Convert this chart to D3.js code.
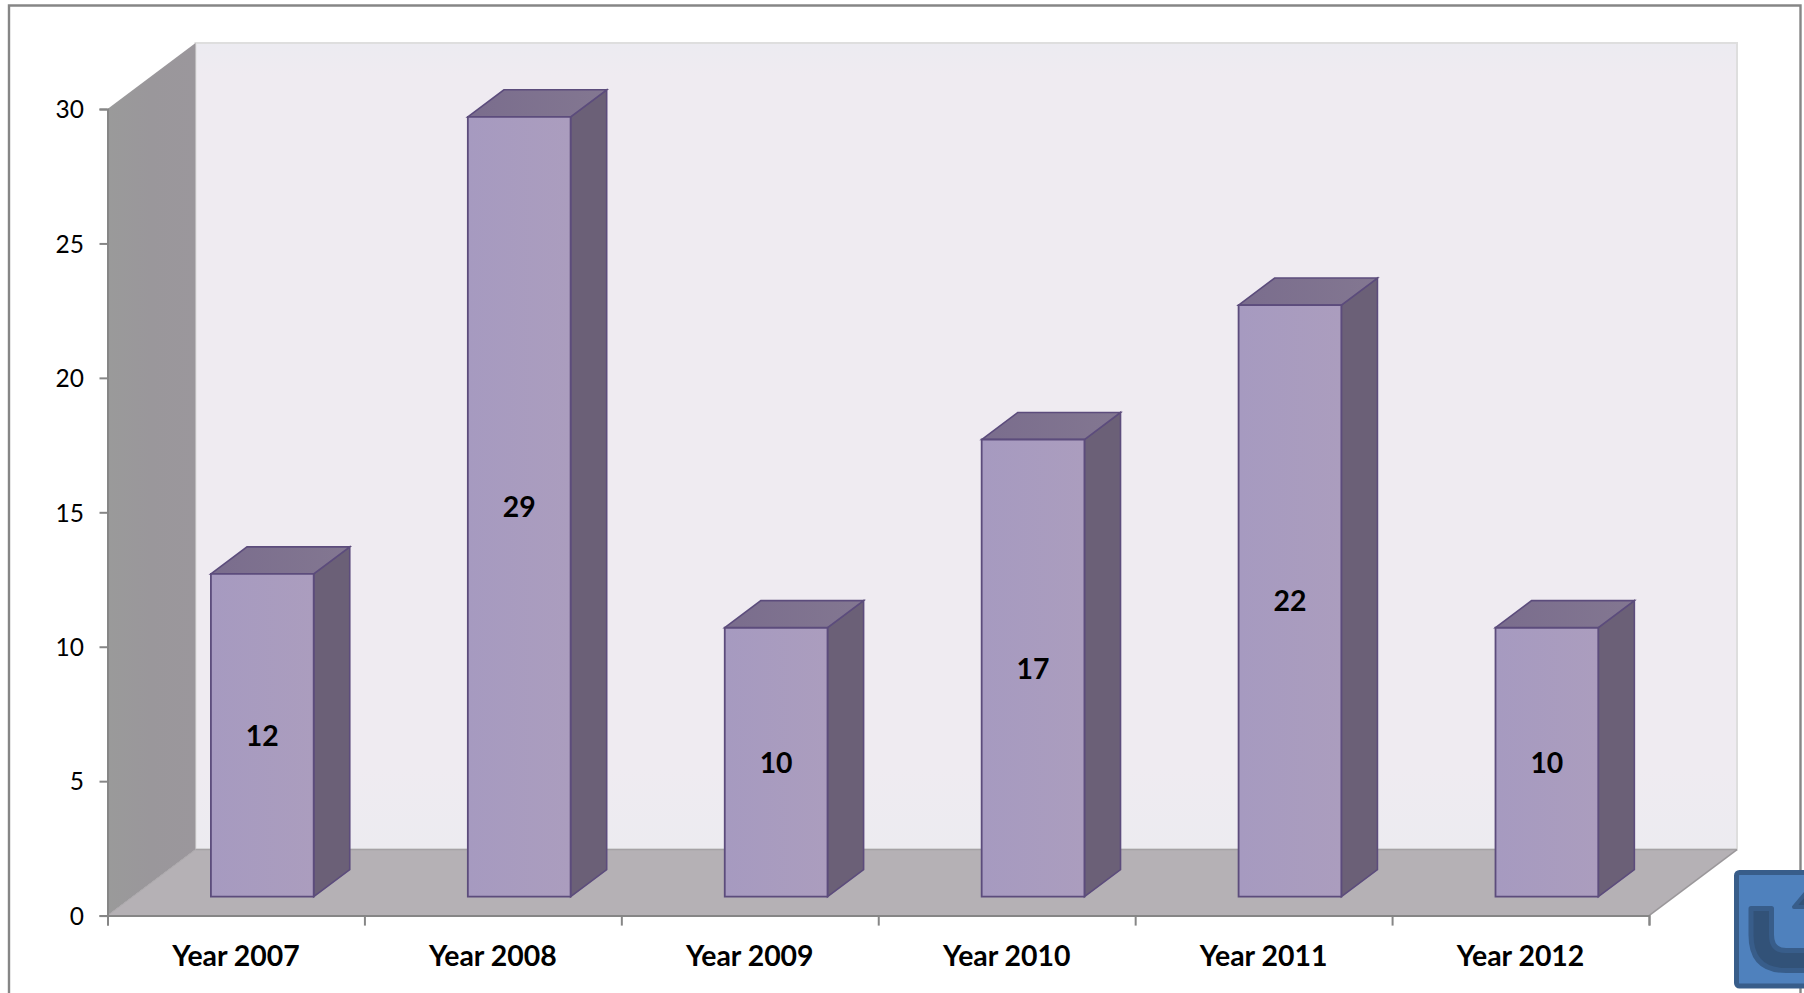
<!DOCTYPE html>
<html><head><meta charset="utf-8">
<script src="https://cdn.jsdelivr.net/npm/d3@7/dist/d3.min.js"></script>
<style>html,body{margin:0;padding:0;background:#fff;overflow:hidden}svg{display:block}</style>
</head><body><svg id="c" width="1804" height="993"></svg>
<script>
const categories = ["Year 2007","Year 2008","Year 2009","Year 2010","Year 2011","Year 2012"];
const values = [12,29,10,17,22,10];
const yTicks = [0,5,10,15,20,25,30];

const svg = d3.select("#c");
const FONT = "Lato, Carlito, sans-serif";
const x = d3.scaleBand().domain(categories).range([107.5,1649]);
const y = d3.scaleLinear().domain([0,30]).range([915.6,109]);
// depth scale: 0 = front of the floor, 1 = back wall
const dx = d3.scaleLinear().domain([0,1]).range([0,88]);
const dy = d3.scaleLinear().domain([0,1]).range([0,-66]);
const barFront = 0.288, barBack = 0.698, barBandShare = 0.4, barNudge = 1;
const P = (px,v,d) => [px+dx(d), y(v)+dy(d)];
const poly = pts => "M"+pts.map(p=>p.join(",")).join("L")+"Z";

const defs = svg.append("defs");
function grad(id,stops,h){
  const g = defs.append("linearGradient").attr("id",id).attr("x1",0).attr("y1",0).attr("x2",h?1:0).attr("y2",h?0:1);
  stops.forEach(([o,c])=>g.append("stop").attr("offset",o).attr("stop-color",c));
}
grad("back",[[0,"#ecebf1"],[0.04,"#efebf1"],[0.9,"#efebf1"],[1,"#ecebf0"]]);
grad("wall",[[0,"#9a9a9a"],[0.5,"#9a979b"],[1,"#9b979c"]],true);
grad("front",[[0,"#a69ac0"],[1,"#ab9dbe"]],true);
grad("lid",[[0,"#7a6d8d"],[1,"#837791"]],true);

// outer frame (runs off the bottom of the page)
svg.append("path").attr("d","M9,993V5.5H1800.5V993").attr("fill","none").attr("stroke","#868686").attr("stroke-width",2.4);

// walls and floor
const [x0,x1] = x.range();
svg.append("path").attr("d",poly([P(x0,30,1),P(x1,30,1),P(x1,0,1),P(x0,0,1)]))
  .attr("fill","url(#back)").attr("stroke","#dedede").attr("stroke-width",2);
svg.append("path").attr("d",poly([P(x0,0,0),P(x0,30,0),P(x0,30,1),P(x0,0,1)])).attr("fill","url(#wall)");
svg.append("path").attr("d",poly([P(x0,0,0),P(x0,0,1),P(x1,0,1),P(x1,0,0)])).attr("fill","#b5b1b5");
svg.append("path").attr("d",`M${P(x0,0,1)}L${P(x1,0,1)}`).attr("stroke","#a5a2a5").attr("stroke-width",1.5).attr("fill","none");
svg.append("path").attr("d",`M${P(x0,0,0)}L${P(x0,0,1)}`).attr("stroke","#aaa7aa").attr("stroke-width",1).attr("fill","none");
svg.append("path").attr("d",`M${P(x1,0,0)}L${P(x1,0,1)}`).attr("stroke","#9a979a").attr("stroke-width",1.5).attr("fill","none");

// axes
const yAxis = svg.append("g").attr("transform",`translate(${x0},0)`)
  .call(d3.axisLeft(y).tickValues(yTicks).tickSize(8).tickPadding(15.5));
const edges = d3.scaleLinear().domain([0,categories.length]).range([x0,x1]);
const xAxis = svg.append("g").attr("transform",`translate(0,${y(0)})`)
  .call(d3.axisBottom(edges).tickValues(d3.range(categories.length+1)).tickSize(10).tickFormat(""));
[yAxis,xAxis].forEach(g=>{
  g.selectAll(".domain").attr("stroke","#868686").attr("stroke-width",2);
  g.selectAll("line").attr("stroke","#868686").attr("stroke-width",2);
});
yAxis.selectAll("text").attr("font-family",FONT).attr("font-size",24.5).attr("fill","#000").attr("dy","0.36em");
svg.append("g").selectAll("text").data(categories).join("text")
  .attr("x",d=>x(d)+x.bandwidth()/2).attr("y",965.5).attr("text-anchor","middle")
  .attr("font-family",FONT).attr("font-weight",700).attr("font-size",28.4).attr("fill","#000").text(d=>d);

// 3-D bars
const bars = svg.append("g").selectAll("g").data(categories.map((c,i)=>({c,v:values[i]}))).join("g");
const bw = x.bandwidth()*barBandShare;
const L = d => x(d.c)+(x.bandwidth()-bw)/2+barNudge, R = d => L(d)+bw;
const stroke = "#5c4c7c";
bars.append("path").attr("d",d=>poly([P(R(d),0,barFront),P(R(d),d.v,barFront),P(R(d),d.v,barBack),P(R(d),0,barBack)]))
  .attr("fill","#6b6077").attr("stroke",stroke).attr("stroke-width",1.6);
bars.append("path").attr("d",d=>poly([P(L(d),d.v,barFront),P(L(d),d.v,barBack),P(R(d),d.v,barBack),P(R(d),d.v,barFront)]))
  .attr("fill","url(#lid)").attr("stroke",stroke).attr("stroke-width",1.6);
bars.append("path").attr("d",d=>poly([P(L(d),0,barFront),P(L(d),d.v,barFront),P(R(d),d.v,barFront),P(R(d),0,barFront)]))
  .attr("fill","url(#front)").attr("stroke",stroke).attr("stroke-width",1.8);
bars.append("text")
  .attr("x",d=>(L(d)+R(d))/2+dx(barFront)).attr("y",d=>y(d.v/2)+dy(barFront)+10.5)
  .attr("text-anchor","middle").attr("font-family",FONT).attr("font-weight",700).attr("font-size",28.4).attr("fill","#000")
  .text(d=>d.v);

// corner badge with U-turn arrow, cut off by the page edge
const badge = svg.append("g");
badge.append("rect").attr("x",1736.5).attr("y",872.5).attr("width",90).attr("height",113.5).attr("rx",3)
  .attr("fill","#4f81bd").attr("stroke","#385d8a").attr("stroke-width",5);
const arrow = d3.path();
arrow.moveTo(1751,908.5);
arrow.lineTo(1751,935);
arrow.quadraticCurveTo(1751,970.5,1786,970.5);
arrow.lineTo(1810,970.5);
arrow.lineTo(1810,950.5);
arrow.lineTo(1786,950.5);
arrow.quadraticCurveTo(1771.5,950.5,1771.5,935);
arrow.lineTo(1771.5,908.5);
arrow.closePath();
badge.append("path").attr("d",arrow.toString()).attr("fill","#325278").attr("stroke","#385d8a").attr("stroke-width",5).attr("stroke-linejoin","round");
badge.append("path").attr("d","M1794,907L1810,888V907Z").attr("fill","#325278").attr("stroke","#385d8a").attr("stroke-width",4).attr("stroke-linejoin","round");
</script></body></html>
